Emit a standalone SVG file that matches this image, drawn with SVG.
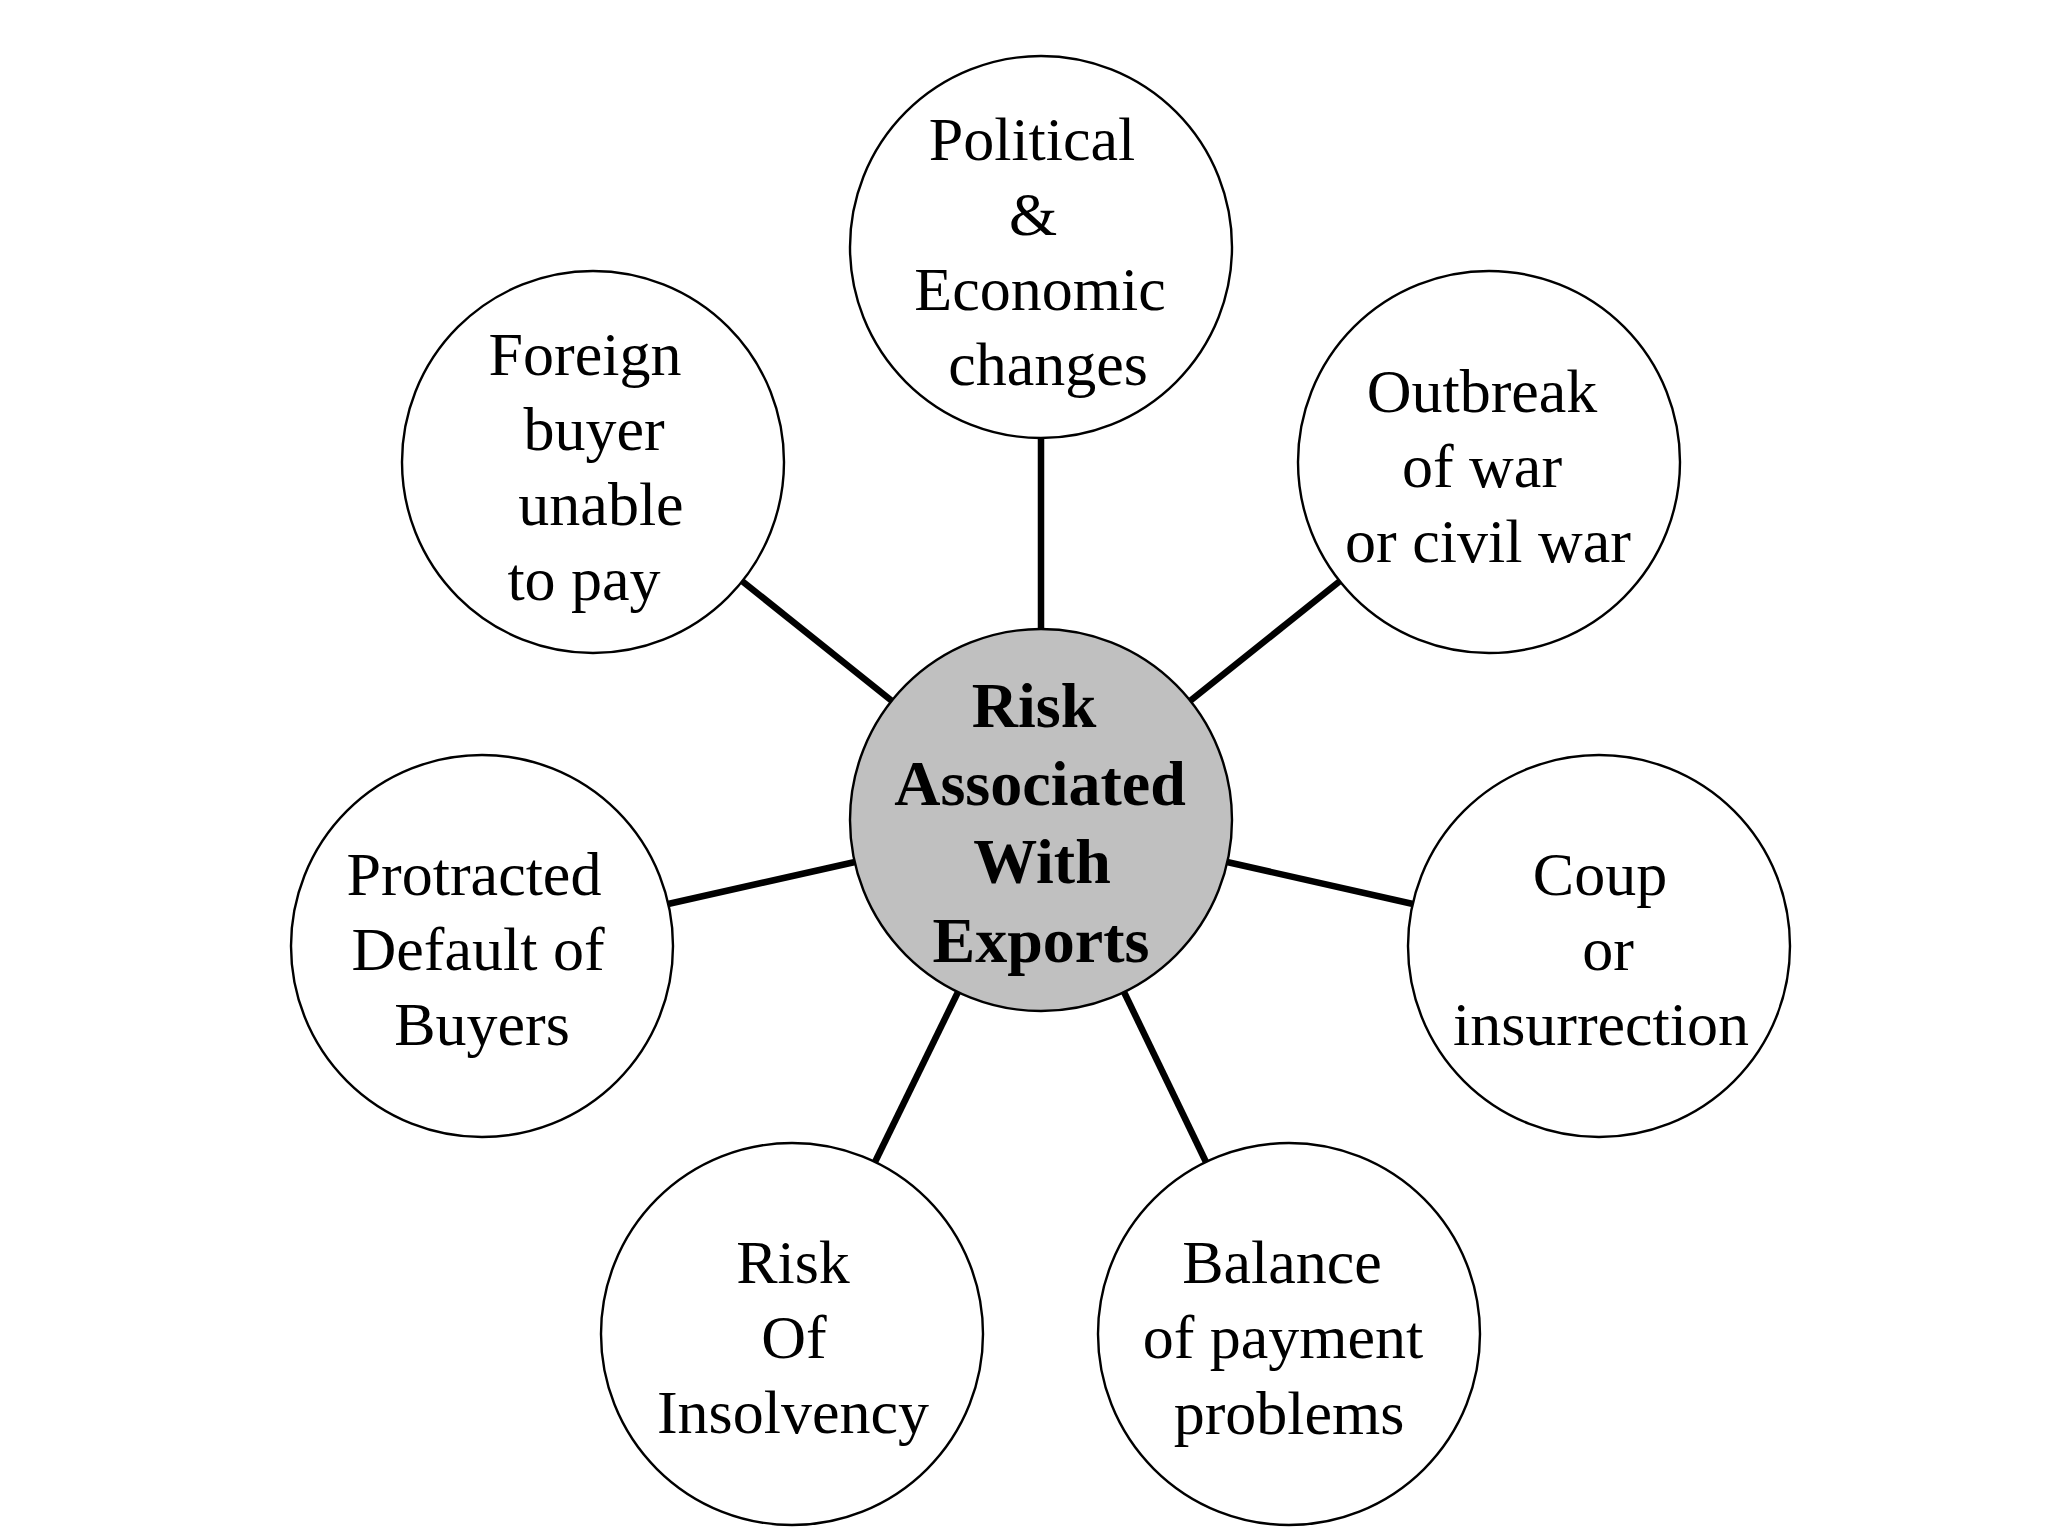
<svg xmlns="http://www.w3.org/2000/svg" width="2048" height="1536" viewBox="0 0 2048 1536">
<style>
.node{fill:#ffffff;stroke:#000000;stroke-width:2.4}
.hub{fill:#c0c0c0;stroke:#000000;stroke-width:2.4}
.lbl{font-family:"Liberation Serif","Times New Roman",serif;font-size:62px;fill:#000000;text-anchor:middle}
.hubl{font-family:"Liberation Serif","Times New Roman",serif;font-size:64px;font-weight:bold;fill:#000000;text-anchor:middle}
.conn line{stroke:#000000;stroke-width:6.5;stroke-linecap:butt}
</style>
<rect width="2048" height="1536" fill="#ffffff"/>
<g id="connectors" class="conn">
<line x1="1041" y1="629" x2="1041" y2="438"/>
<line x1="1190" y1="701" x2="1340" y2="581"/>
<line x1="1227" y1="862" x2="1413" y2="904"/>
<line x1="1124" y1="992" x2="1206" y2="1162"/>
<line x1="958" y1="992" x2="875" y2="1162"/>
<line x1="855" y1="862" x2="668" y2="904"/>
<line x1="892" y1="701" x2="742" y2="581"/>
</g>
<g id="hub">
<circle class="hub" cx="1041" cy="820" r="191"/>
<text class="hubl" x="1034" y="727">Risk</text>
<text class="hubl" x="1040" y="805">Associated</text>
<text class="hubl" x="1042" y="883">With</text>
<text class="hubl" x="1041" y="962">Exports</text>
</g>
<g id="political">
<circle class="node" cx="1041" cy="247" r="191"/>
<text class="lbl" x="1032" y="160">Political</text>
<text class="lbl" x="1033" y="235">&amp;</text>
<text class="lbl" x="1040" y="310">Economic</text>
<text class="lbl" x="1048" y="385">changes</text>
</g>
<g id="outbreak">
<circle class="node" cx="1489" cy="462" r="191"/>
<text class="lbl" x="1482" y="412">Outbreak</text>
<text class="lbl" x="1482" y="487">of war</text>
<text class="lbl" x="1488" y="562">or civil war</text>
</g>
<g id="coup">
<circle class="node" cx="1599" cy="946" r="191"/>
<text class="lbl" x="1600" y="895">Coup</text>
<text class="lbl" x="1608" y="970">or</text>
<text class="lbl" x="1601" y="1045">insurrection</text>
</g>
<g id="balance">
<circle class="node" cx="1289" cy="1334" r="191"/>
<text class="lbl" x="1282" y="1283">Balance</text>
<text class="lbl" x="1283" y="1358">of payment</text>
<text class="lbl" x="1289" y="1434">problems</text>
</g>
<g id="insolvency">
<circle class="node" cx="792" cy="1334" r="191"/>
<text class="lbl" x="793" y="1283">Risk</text>
<text class="lbl" x="794" y="1358">Of</text>
<text class="lbl" x="793" y="1433">Insolvency</text>
</g>
<g id="protracted">
<circle class="node" cx="482" cy="946" r="191"/>
<text class="lbl" x="474" y="895">Protracted</text>
<text class="lbl" x="478" y="970">Default of</text>
<text class="lbl" x="482" y="1045">Buyers</text>
</g>
<g id="foreign">
<circle class="node" cx="593" cy="462" r="191"/>
<text class="lbl" x="585" y="375">Foreign</text>
<text class="lbl" x="594" y="450">buyer</text>
<text class="lbl" x="601" y="525">unable</text>
<text class="lbl" x="584" y="600">to pay</text>
</g>
</svg>
